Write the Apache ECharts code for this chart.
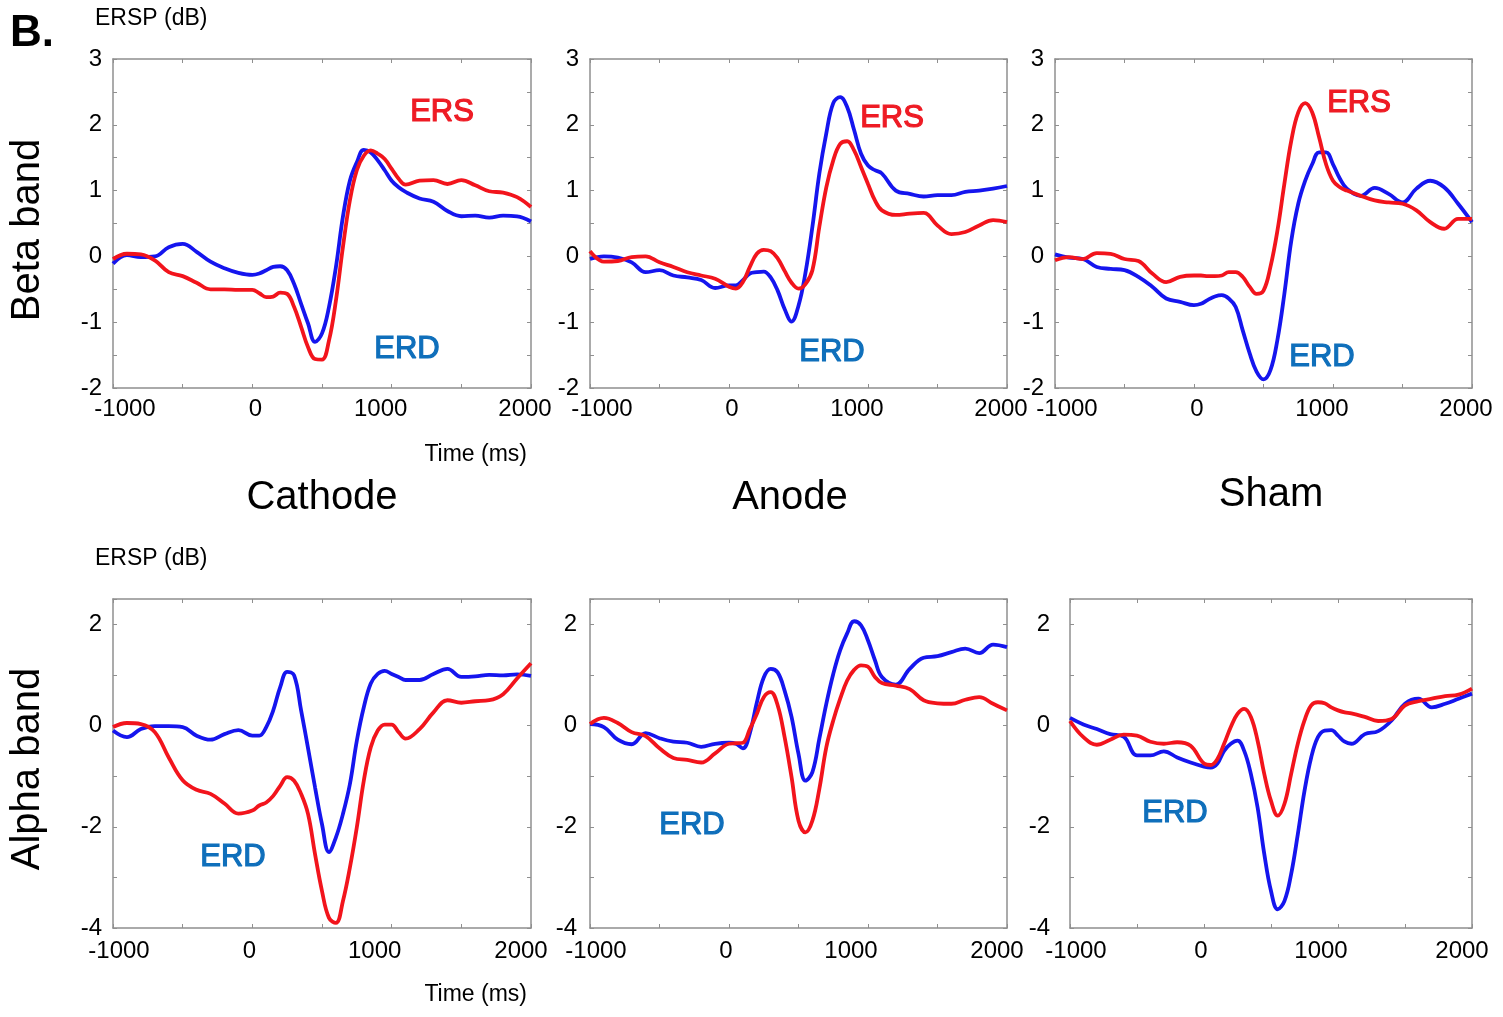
<!DOCTYPE html>
<html>
<head>
<meta charset="utf-8">
<script src="https://cdn.jsdelivr.net/npm/echarts@6/dist/echarts.min.js"></script>
<style>
html,body{margin:0;padding:0;background:#fff;}
#main{width:1503px;height:1017px;}
</style>
</head>
<body>
<div id="main"></div>
<script>
// ---- Data (ERSP, dB) ----
const time = [-1000,-900,-800,-700,-600,-500,-400,-300,-200,-100,
  0,50,100,150,200,250,300,350,400,450,500,550,600,650,700,750,800,850,900,950,1000,1050,1100,
  1200,1300,1400,1500,1600,1700,1800,1900,2000];

const betaCathodeBlue = [-0.11,0.02,-0.01,0.0,0.14,0.19,0.07,-0.08,-0.18,-0.25,
  -0.28,-0.26,-0.21,-0.16,-0.15,-0.21,-0.42,-0.72,-1.02,-1.30,-1.17,-0.77,-0.16,0.60,1.15,1.43,1.62,1.58,1.46,1.31,1.15,1.05,0.98,
  0.88,0.83,0.69,0.61,0.62,0.59,0.62,0.61,0.53];
const betaCathodeRed = [-0.04,0.04,0.03,-0.06,-0.24,-0.30,-0.40,-0.50,-0.50,-0.51,
  -0.51,-0.56,-0.62,-0.61,-0.55,-0.57,-0.77,-1.07,-1.38,-1.56,-1.57,-1.28,-0.67,0.14,0.85,1.31,1.53,1.61,1.56,1.48,1.33,1.18,1.09,
  1.15,1.16,1.10,1.16,1.08,0.99,0.97,0.90,0.75];

const betaAnodeBlue = [-0.04,0.0,-0.02,-0.09,-0.24,-0.21,-0.29,-0.32,-0.36,-0.48,
  -0.44,-0.44,-0.36,-0.26,-0.24,-0.23,-0.32,-0.52,-0.80,-0.99,-0.75,-0.25,0.45,1.26,1.87,2.33,2.42,2.27,1.92,1.56,1.38,1.31,1.26,
  1.00,0.95,0.91,0.93,0.93,0.98,1.00,1.03,1.07];
const betaAnodeRed = [0.08,-0.08,-0.07,-0.01,0.0,-0.09,-0.16,-0.24,-0.29,-0.34,
  -0.46,-0.49,-0.39,-0.16,0.04,0.10,0.08,-0.03,-0.22,-0.40,-0.49,-0.42,-0.21,0.45,1.05,1.46,1.71,1.75,1.61,1.36,1.10,0.85,0.70,
  0.63,0.65,0.66,0.47,0.34,0.37,0.47,0.55,0.52];

const betaShamBlue = [0.03,-0.02,-0.04,-0.16,-0.19,-0.21,-0.31,-0.46,-0.64,-0.69,
  -0.74,-0.72,-0.66,-0.61,-0.59,-0.64,-0.77,-1.12,-1.47,-1.75,-1.87,-1.73,-1.27,-0.57,0.24,0.80,1.15,1.40,1.58,1.58,1.40,1.18,1.03,
  0.92,1.04,0.95,0.82,1.03,1.15,1.05,0.80,0.52];
const betaShamRed = [-0.06,-0.01,-0.04,0.05,0.04,-0.04,-0.07,-0.26,-0.39,-0.31,
  -0.29,-0.29,-0.30,-0.30,-0.29,-0.24,-0.24,-0.31,-0.46,-0.57,-0.52,-0.16,0.39,1.10,1.76,2.19,2.33,2.19,1.81,1.40,1.15,1.05,1.00,
  0.92,0.85,0.82,0.80,0.70,0.52,0.42,0.57,0.57];

const alphaCathodeBlue = [-0.10,-0.23,-0.07,-0.01,-0.01,-0.03,-0.20,-0.28,-0.17,-0.09,
  -0.20,-0.20,-0.03,0.30,0.76,1.06,0.99,0.30,-0.45,-1.22,-1.95,-2.50,-2.21,-1.75,-1.16,-0.30,0.36,0.83,1.02,1.08,1.02,0.96,0.90,
  0.90,1.02,1.12,0.96,0.97,1.00,0.99,1.01,0.98];
const alphaCathodeRed = [-0.03,0.05,0.03,-0.13,-0.63,-1.08,-1.27,-1.35,-1.54,-1.74,
  -1.68,-1.58,-1.52,-1.39,-1.19,-1.02,-1.09,-1.35,-1.75,-2.54,-3.27,-3.80,-3.90,-3.47,-2.81,-2.01,-1.09,-0.43,-0.10,0.02,0.02,-0.13,-0.26,
  -0.07,0.26,0.50,0.45,0.48,0.50,0.62,0.93,1.23];

const alphaAnodeBlue = [0.03,-0.03,-0.28,-0.37,-0.15,-0.25,-0.32,-0.34,-0.42,-0.36,
  -0.34,-0.36,-0.45,-0.15,0.45,0.95,1.12,1.05,0.69,0.17,-0.56,-1.09,-0.92,-0.26,0.43,1.02,1.49,1.82,2.06,1.98,1.68,1.29,0.96,
  0.81,1.12,1.34,1.37,1.45,1.52,1.43,1.60,1.55];
const alphaAnodeRed = [0.03,0.15,0.05,-0.13,-0.21,-0.45,-0.64,-0.68,-0.73,-0.55,
  -0.36,-0.35,-0.34,-0.07,0.23,0.56,0.66,0.40,-0.23,-1.02,-1.88,-2.11,-1.88,-1.25,-0.43,0.10,0.53,0.89,1.10,1.19,1.16,0.96,0.84,
  0.79,0.72,0.50,0.44,0.43,0.51,0.56,0.43,0.30];

const alphaShamBlue = [0.15,0.02,-0.07,-0.17,-0.22,-0.59,-0.59,-0.51,-0.63,-0.73,
  -0.81,-0.83,-0.75,-0.50,-0.36,-0.30,-0.50,-0.96,-1.62,-2.54,-3.27,-3.63,-3.47,-2.94,-2.15,-1.29,-0.63,-0.23,-0.10,-0.09,-0.20,-0.32,-0.36,
  -0.17,-0.11,0.10,0.43,0.53,0.36,0.43,0.53,0.63];
const alphaShamRed = [0.09,-0.23,-0.38,-0.28,-0.18,-0.20,-0.32,-0.36,-0.33,-0.40,
  -0.75,-0.78,-0.66,-0.36,-0.03,0.23,0.33,0.17,-0.30,-0.96,-1.49,-1.78,-1.55,-0.96,-0.36,0.10,0.40,0.46,0.44,0.36,0.30,0.26,0.24,
  0.17,0.09,0.13,0.40,0.48,0.53,0.58,0.61,0.73];

// tick labels
const xTickLabels = [-1000, 0, 1000, 2000];
const betaYTickLabels = [-2, -1, 0, 1, 2, 3];
const alphaYTickLabels = [-4, -2, 0, 2];

const conditions = ['Cathode', 'Anode', 'Sham'];
const bands = ['Beta band', 'Alpha band'];

// ---- Layout / style ----
const FONT = '"Liberation Sans", Arial, Helvetica, sans-serif';
const AXIS_COLOR = '#8f8f8f';
const RED = '#f2141c';
const BLUE = '#1515ee';
const ERS_COLOR = '#ee1b24';
const ERD_COLOR = '#0f6fbb';

const grids = [
  {left: 113, top: 59, width: 418, height: 329},
  {left: 590, top: 59, width: 417, height: 329},
  {left: 1055, top: 59, width: 417, height: 329},
  {left: 113, top: 599, width: 418, height: 329},
  {left: 590, top: 599, width: 417, height: 329},
  {left: 1070, top: 599, width: 402, height: 329}
];
const yLabelMargin = [11, 11, 11, 11, 13, 20];

const panelSeries = [
  [betaCathodeBlue, betaCathodeRed],
  [betaAnodeBlue, betaAnodeRed],
  [betaShamBlue, betaShamRed],
  [alphaCathodeBlue, alphaCathodeRed],
  [alphaAnodeBlue, alphaAnodeRed],
  [alphaShamBlue, alphaShamRed]
];

// label offset styles (rich padding to nudge labels like the original figure)
function xRich(row) {
  const pad = row === 0
    ? {n: [0,0,0,24], z: [0,0,0,6], k1: [0,22,0,0], k2: [0,12,0,0]}
    : {n: [0,0,0,12], z: [0,6,0,0], k1: [0,34,0,0], k2: [0,20,0,0]};
  const base = {fontSize: 24, fontFamily: FONT, color: '#000'};
  const r = {};
  for (const k in pad) r[k] = Object.assign({padding: pad[k]}, base);
  return r;
}
function xFormatter(v) {
  if (!xTickLabels.includes(v)) return '';
  const key = v === -1000 ? 'n' : v === 0 ? 'z' : v === 1000 ? 'k1' : 'k2';
  return '{' + key + '|' + v + '}';
}

const option = {
  backgroundColor: '#fff',
  animation: false,
  grid: grids.map(g => Object.assign({containLabel: false, show: false}, g)),
  xAxis: [],
  yAxis: [],
  series: [],
  graphic: []
};

grids.forEach((g, i) => {
  const row = i < 3 ? 0 : 1;
  const axisLine = {show: true, onZero: false, lineStyle: {color: AXIS_COLOR, width: 1.5}};
  const axisTick = {show: true, inside: true, length: 4, lineStyle: {color: AXIS_COLOR, width: 1}};
  const xCommon = {
    type: 'value', gridIndex: i, min: -1000, max: 2000, interval: 500,
    axisLine, axisTick, splitLine: {show: false}
  };
  option.xAxis.push(Object.assign({}, xCommon, {
    position: 'bottom',
    axisLabel: {
      show: true, margin: row === 0 ? 9 : 11, fontSize: 24, fontFamily: FONT, color: '#000',
      formatter: xFormatter, rich: xRich(row), showMinLabel: true, showMaxLabel: true, hideOverlap: false
    }
  }));
  option.xAxis.push(Object.assign({}, xCommon, {position: 'top', axisLabel: {show: false}}));

  const yLabels = row === 0 ? betaYTickLabels : alphaYTickLabels;
  const yCommon = {
    type: 'value', gridIndex: i,
    min: row === 0 ? -2 : -4, max: row === 0 ? 3 : 2.5, interval: row === 0 ? 0.5 : 1,
    axisLine, axisTick, splitLine: {show: false}
  };
  option.yAxis.push(Object.assign({}, yCommon, {
    position: 'left',
    axisLabel: {
      show: true, margin: yLabelMargin[i], fontSize: 24, fontFamily: FONT, color: '#000',
      formatter: v => yLabels.includes(v) ? String(v) : '', showMinLabel: true, showMaxLabel: true, hideOverlap: false
    }
  }));
  option.yAxis.push(Object.assign({}, yCommon, {position: 'right', axisLabel: {show: false}}));

  const [blue, red] = panelSeries[i];
  [[blue, BLUE, 'ERD'], [red, RED, 'ERS']].forEach(([arr, col, nm]) => {
    option.series.push({
      type: 'line', name: nm, xAxisIndex: 2 * i, yAxisIndex: 2 * i,
      data: time.map((t, k) => [t, arr[k]]),
      smooth: 0.4, showSymbol: false, symbol: 'none', clip: true,
      lineStyle: {color: col, width: 3.8}
    });
  });
});

function txt(text, x, y, size, opts) {
  opts = opts || {};
  const style = {
    text: text, x: 0, y: 0,
    font: (opts.weight || 'normal') + ' ' + size + 'px ' + FONT,
    fill: opts.color || '#000',
    align: opts.align || 'center', verticalAlign: 'middle',
    textAlign: opts.align || 'center', textVerticalAlign: 'middle'
  };
  if (opts.thick) {
    style.stroke = opts.color;
    style.lineWidth = opts.thick;
  }
  return {type: 'text', x: x, y: y, rotation: opts.rotation || 0, silent: true, z: 100, style: style};
}

option.graphic = [
  txt('B.', 10, 34, 44, {weight: 'bold', align: 'left'}),
  txt('ERSP (dB)', 95, 19, 23, {align: 'left'}),
  txt('ERSP (dB)', 95, 559, 23, {align: 'left'}),
  txt('Time (ms)', 527, 455, 23, {align: 'right'}),
  txt('Time (ms)', 527, 995, 23, {align: 'right'}),
  txt(conditions[0], 322, 498, 40),
  txt(conditions[1], 790, 498, 40),
  txt(conditions[2], 1271, 495, 40),
  txt(bands[0], 28, 230, 40, {rotation: Math.PI / 2}),
  txt(bands[1], 28, 769, 40, {rotation: Math.PI / 2}),
  txt('ERS', 442, 112, 31, {color: ERS_COLOR, thick: 1.2}),
  txt('ERD', 407, 349, 31, {color: ERD_COLOR, thick: 1.2}),
  txt('ERS', 892, 118, 31, {color: ERS_COLOR, thick: 1.2}),
  txt('ERD', 832, 352, 31, {color: ERD_COLOR, thick: 1.2}),
  txt('ERS', 1359, 103, 31, {color: ERS_COLOR, thick: 1.2}),
  txt('ERD', 1322, 357, 31, {color: ERD_COLOR, thick: 1.2}),
  txt('ERD', 233, 857, 31, {color: ERD_COLOR, thick: 1.2}),
  txt('ERD', 692, 825, 31, {color: ERD_COLOR, thick: 1.2}),
  txt('ERD', 1175, 813, 31, {color: ERD_COLOR, thick: 1.2})
];

const chart = echarts.init(document.getElementById('main'), null, {renderer: 'canvas'});
chart.setOption(option);
</script>
</body>
</html>
